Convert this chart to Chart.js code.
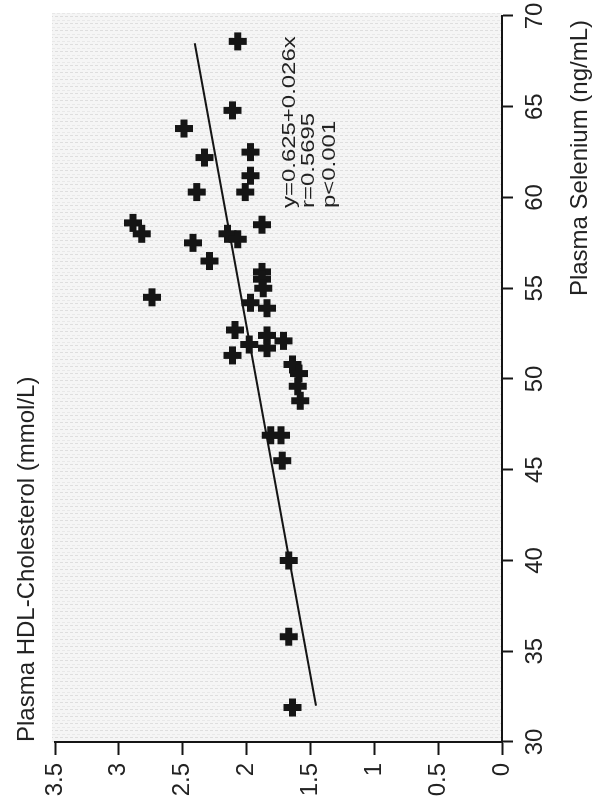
<!DOCTYPE html>
<html>
<head>
<meta charset="utf-8">
<title>Plasma HDL-Cholesterol vs Plasma Selenium</title>
<script src="https://cdn.jsdelivr.net/npm/chart.js@4.4.0/dist/chart.umd.min.js"></script>
<style>
  html, body { margin: 0; padding: 0; background: #fff; }
  #wrap { position: relative; width: 596px; height: 810px; overflow: hidden; }
  /* the figure is laid out landscape and turned a quarter turn anticlockwise */
  #chart {
    position: absolute; left: 0; top: 0;
    transform-origin: 0 0;
    transform: translate(0, 810px) rotate(-90deg);
  }
</style>
</head>
<body>
<div id="wrap"><canvas id="chart" width="810" height="596"></canvas></div>
<script>
// plasma selenium (ng/mL) and HDL-cholesterol (mmol/L), one entry per subject
const selenium = [68.6, 64.8, 63.8, 62.5, 62.2, 61.2, 60.3, 60.3, 58.6, 58.0,
                  58.5, 58.0, 57.7, 57.5, 56.5, 55.9, 55.5, 55.0, 54.5, 54.2,
                  53.9, 52.7, 51.9, 51.3, 52.4, 51.7, 52.1, 50.8, 50.3, 49.6,
                  48.8, 46.9, 46.9, 45.5, 40.0, 35.8, 31.9];
const hdl      = [2.07, 2.11, 2.49, 1.97, 2.33, 1.97, 2.39, 2.01, 2.89, 2.82,
                  1.88, 2.15, 2.07, 2.42, 2.29, 1.88, 1.88, 1.87, 2.74, 1.97,
                  1.84, 2.09, 1.98, 2.11, 1.84, 1.84, 1.71, 1.64, 1.59, 1.60,
                  1.58, 1.81, 1.73, 1.72, 1.67, 1.67, 1.64];

// axis tick values and how they are printed
const seleniumTicks = [30, 35, 40, 45, 50, 55, 60, 65, 70];
const hdlTicks = [0, 0.5, 1, 1.5, 2, 2.5, 3, 3.5];
const hdlTickLabels = ["0", "0.5", "1", "1.5", "2", "2.5", "3", "3.5"];

// regression y = a + b*x, drawn over the observed selenium range
const fitIntercept = 0.625;
const fitSlope = 0.026;
const fitRange = [32, 68.5];
const statLines = ["y=0.625+0.026x", "r=0.5695", "p<0.001"];

const xTitle = "Plasma Selenium (ng/mL)";
const yTitle = "Plasma HDL-Cholesterol (mmol/L)";

const points = selenium.map((s, i) => ({x: s, y: hdl[i]}));
const fitLine = fitRange.map(s => ({x: s, y: fitIntercept + fitSlope * s}));

const INK = "#151515";
const FONT = "'Liberation Sans', Arial, sans-serif";

// faint streaked panel, like the screened background of the printed plot
function panelPattern(ctx){
  const c = document.createElement("canvas");
  c.width = 7; c.height = 5;
  const p = c.getContext("2d");
  p.fillStyle = "#f5f5f5";
  p.fillRect(0, 0, 7, 5);
  p.fillStyle = "#dedede";
  p.fillRect(2, 0, 1, 3);
  p.fillStyle = "#e8e8e8";
  p.fillRect(5, 2, 1, 3);
  return ctx.createPattern(c, "repeat");
}

const decor = {
  id: "decor",
  beforeDraw(chart){
    const {ctx, chartArea: a} = chart;
    ctx.save();
    ctx.fillStyle = panelPattern(ctx);
    ctx.fillRect(a.left, a.top - 3, a.right - a.left + 3, a.bottom - a.top + 3);
    ctx.restore();
  },
  afterDraw(chart){
    const {ctx, chartArea: a} = chart;
    ctx.save();
    ctx.fillStyle = "#222";
    ctx.textBaseline = "alphabetic";
    ctx.textAlign = "left";
    ctx.font = "24px " + FONT;
    ctx.fillText(yTitle, a.left, 34);
    ctx.textAlign = "right";
    ctx.fillText(xTitle, 790, 587);

    // stats block, slightly widened type
    ctx.textAlign = "left";
    ctx.font = "18px " + FONT;
    const base = [295, 314, 335];
    statLines.forEach((t, i) => {
      ctx.save();
      ctx.translate(602, base[i]);
      ctx.scale(1.33, 1);
      ctx.fillText(t, 0, 0);
      ctx.restore();
    });
    ctx.restore();
  }
};

new Chart(document.getElementById("chart"), {
  type: "scatter",
  data: {
    datasets: [
      {
        data: points,
        pointStyle: "cross",
        pointRadius: 9,
        pointBorderWidth: 7,
        borderColor: INK,
        backgroundColor: INK
      },
      {
        type: "line",
        data: fitLine,
        borderColor: INK,
        borderWidth: 2,
        pointRadius: 0,
        fill: false
      }
    ]
  },
  options: {
    responsive: false,
    animation: false,
    events: [],
    layout: { padding: { left: 0, right: 15, top: 55, bottom: 0 } },
    plugins: { legend: { display: false }, tooltip: { enabled: false }, title: { display: false } },
    scales: {
      x: {
        type: "linear",
        min: seleniumTicks[0], max: seleniumTicks[seleniumTicks.length - 1],
        afterFit: s => { s.height = 94; s.paddingLeft = 0; s.paddingRight = 0; },
        afterBuildTicks: s => { s.ticks = seleniumTicks.map(v => ({value: v})); },
        ticks: { padding: 8, color: "#222", font: { family: FONT, size: 24 } },
        grid: { drawOnChartArea: false, drawTicks: true, tickLength: 11, tickColor: INK, tickWidth: 2 },
        border: { display: true, color: INK, width: 2 }
      },
      y: {
        type: "linear",
        min: hdlTicks[0], max: hdlTicks[hdlTicks.length - 1],
        afterFit: s => { s.width = 68; s.paddingTop = 0; s.paddingBottom = 0; },
        afterBuildTicks: s => { s.ticks = hdlTicks.map(v => ({value: v})); },
        ticks: {
          padding: 8, color: "#222", font: { family: FONT, size: 24 },
          callback: (v) => hdlTickLabels[hdlTicks.indexOf(v)]
        },
        grid: { drawOnChartArea: false, drawTicks: true, tickLength: 13, tickColor: INK, tickWidth: 2 },
        border: { display: true, color: INK, width: 2 }
      }
    }
  },
  plugins: [decor]
});
</script>
</body>
</html>
